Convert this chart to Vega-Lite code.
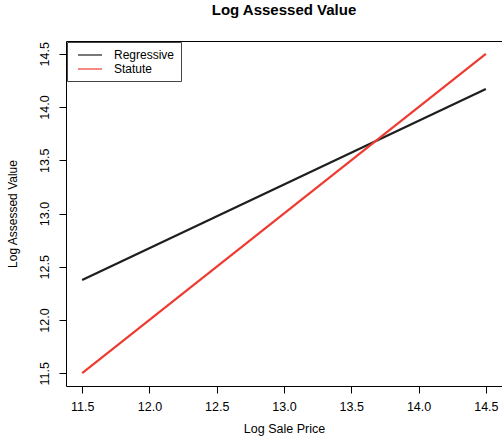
{
  "$schema": "https://vega.github.io/schema/vega-lite/v6.json",
  "width": 436,
  "height": 345,
  "autosize": {"type": "none"},
  "padding": {"left": 66, "top": 41, "right": 0, "bottom": 52},
  "background": "white",
  "title": {"text": "Log Assessed Value", "font": "Liberation Sans", "fontSize": 15, "fontWeight": "bold", "color": "black", "offset": 23, "anchor": "middle"},
  "data": {"values": [
    {"x": 11.5, "y": 12.375, "series": "Regressive"},
    {"x": 14.5, "y": 14.17, "series": "Regressive"},
    {"x": 11.5, "y": 11.5, "series": "Statute"},
    {"x": 14.5, "y": 14.5, "series": "Statute"}
  ]},
  "mark": {"type": "line", "strokeWidth": 2.2},
  "encoding": {
    "x": {"field": "x", "type": "quantitative", "title": "Log Sale Price",
      "scale": {"domain": [11.38, 14.62], "nice": false, "zero": false},
      "axis": {"values": [11.5, 12, 12.5, 13, 13.5, 14, 14.5], "format": ".1f", "grid": false, "domain": false, "tickSize": 7, "tickColor": "black", "labelPadding": 7, "labelFontSize": 12.5, "labelFont": "Liberation Sans", "labelColor": "black", "titleFont": "Liberation Sans", "titleFontSize": 12.5, "titleFontWeight": "normal", "titleColor": "black", "titlePadding": 10}},
    "y": {"field": "y", "type": "quantitative", "title": "Log Assessed Value",
      "scale": {"domain": [11.38, 14.62], "nice": false, "zero": false},
      "axis": {"values": [11.5, 12, 12.5, 13, 13.5, 14, 14.5], "format": ".1f", "grid": false, "domain": false, "tickSize": 7, "tickColor": "black", "labelAngle": -90, "labelAlign": "center", "labelBaseline": "bottom", "labelPadding": 8, "labelFontSize": 12.5, "labelFont": "Liberation Sans", "labelColor": "black", "titleFont": "Liberation Sans", "titleFontSize": 12, "titleFontWeight": "normal", "titleColor": "black", "titlePadding": 19}},
    "color": {"field": "series", "type": "nominal",
      "scale": {"domain": ["Regressive", "Statute"], "range": ["#1e1e1e", "#ee3b30"]},
      "legend": {"title": null, "orient": "top-left", "offset": 1, "padding": 6, "strokeColor": "#444", "fillColor": "white", "symbolType": "M-2,0H2", "symbolSize": 144, "symbolStrokeWidth": 1.2, "symbolOffset": 10, "labelOffset": 17, "labelFontSize": 12, "labelFont": "Liberation Sans", "labelColor": "black", "rowPadding": 1}}
  },
  "config": {"view": {"stroke": "black", "strokeWidth": 1}}
}
